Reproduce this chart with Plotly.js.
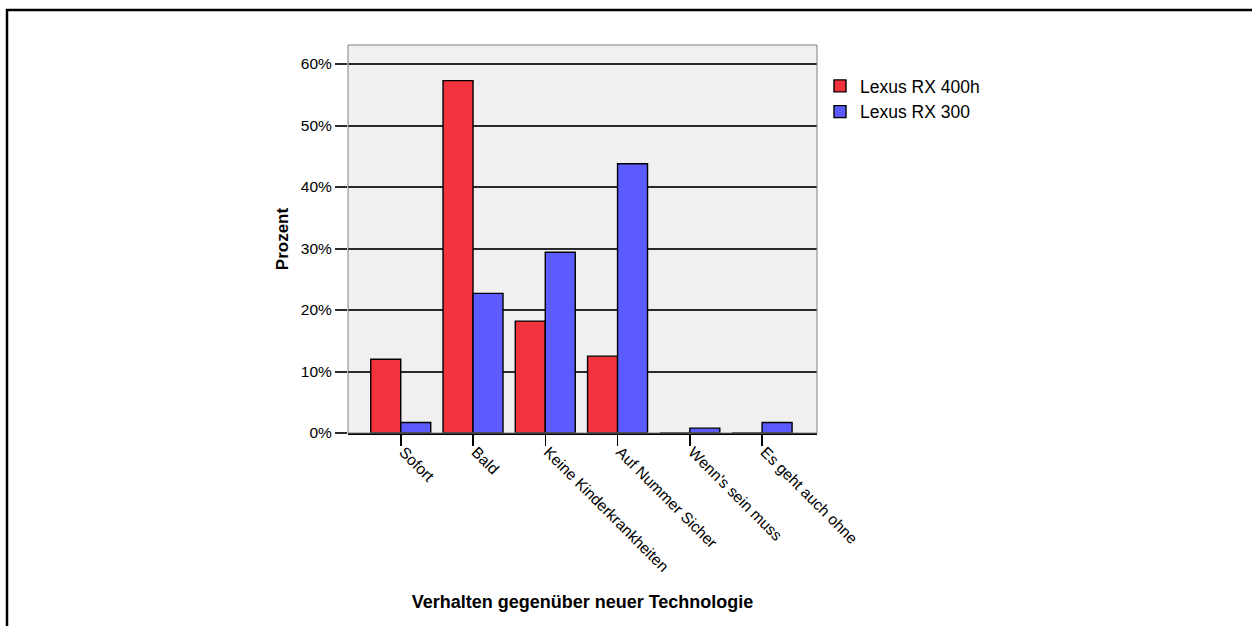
<!DOCTYPE html>
<html>
<head>
<meta charset="utf-8">
<script src="https://cdn.plot.ly/plotly-3.0.1.min.js"></script>
<style>html,body{margin:0;padding:0;background:#fff;}#chart{width:1252px;height:626px;}</style>
</head>
<body>
<div id="chart"></div>
<script>
const categories = ["Sofort", "Bald", "Keine Kinderkrankheiten", "Auf Nummer Sicher", "Wenn's sein muss", "Es geht auch ohne"];
const seriesNames = ["Lexus RX 400h", "Lexus RX 300"];
const rx400h = [12.0, 57.3, 18.2, 12.5, 0, 0];
const rx300 = [1.7, 22.7, 29.4, 43.8, 0.8, 1.7];
const yTicks = [0, 10, 20, 30, 40, 50, 60];
const yTickText = ["0%", "10%", "20%", "30%", "40%", "50%", "60%"];

const W = 1252, H = 626;
const L = 348, R = 817, T = 45, B = 433;
const pw = R - L, ph = B - T;
const px = v => (v - L) / pw;
const py = v => 1 - (v - T) / ph;

const font = "Arial, 'Liberation Sans', sans-serif";

const traces = [
  {type: "bar", name: seriesNames[0], x: categories, y: rx400h,
   marker: {color: "#f2323c", line: {color: "#000", width: 1.4}}},
  {type: "bar", name: seriesNames[1], x: categories, y: rx300,
   marker: {color: "#5b5bff", line: {color: "#000", width: 1.4}}}
];

const layout = {
  width: W, height: H,
  margin: {l: L, r: W - R, t: T, b: H - B, pad: 0},
  paper_bgcolor: "#ffffff",
  plot_bgcolor: "#f0f0f0",
  barmode: "group",
  bargap: 0.17,
  bargroupgap: 0,
  font: {family: font, size: 15.5, color: "#000"},
  showlegend: true,
  legend: {x: px(820), y: py(68), xanchor: "left", yanchor: "top",
           font: {family: font, size: 17.5, color: "#000"}, bgcolor: "rgba(0,0,0,0)",
           tracegroupgap: 0, itemwidth: 30},
  xaxis: {
    type: "category", range: [-0.73, 5.76], autorange: false,
    showgrid: false, zeroline: false,
    showline: true, linecolor: "#000", linewidth: 2,
    ticks: "outside", ticklen: 11, tickcolor: "#000", tickwidth: 1.5,
    tickangle: 45, tickfont: {family: font, size: 15.5, color: "#000"},
    ticklabelstandoff: -9, ticklabelshift: 3,
    title: {text: "<b>Verhalten gegenüber neuer Technologie</b>", standoff: 22,
            font: {family: font, size: 18, color: "#000"}},
    automargin: false
  },
  yaxis: {
    range: [0, 63.1], autorange: false,
    tickvals: yTicks, ticktext: yTickText,
    showgrid: true, gridcolor: "#2a2a2a", gridwidth: 2,
    zeroline: false,
    showline: false,
    ticks: "outside", ticklen: 12, tickcolor: "#2a2a2a", tickwidth: 2,
    tickfont: {family: font, size: 15.5, color: "#000"},
    title: {text: "<b>Prozent</b>", standoff: 7,
            font: {family: font, size: 17, color: "#000"}},
    automargin: false
  },
  shapes: [
    {type: "rect", xref: "paper", yref: "paper", x0: 0, x1: 1, y0: 0, y1: 1,
     line: {color: "#808080", width: 1}, layer: "above"},
    {type: "rect", xref: "paper", yref: "paper",
     x0: px(7), x1: px(1300), y0: py(700), y1: py(10),
     line: {color: "#000", width: 2.5}, fillcolor: "rgba(0,0,0,0)", layer: "above"}
  ]
};

Plotly.newPlot("chart", traces, layout, {displayModeBar: false, staticPlot: true});
</script>
</body>
</html>
